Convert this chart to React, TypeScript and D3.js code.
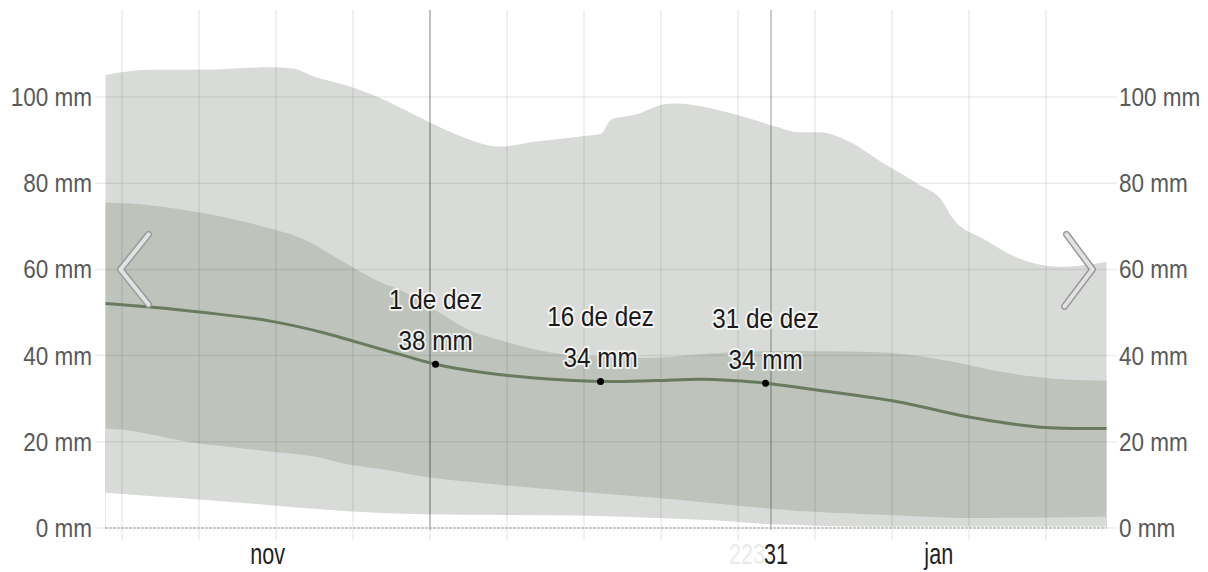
import React from "react";
import * as d3 from "d3";

// percentile series, each with its own sample dates (day of season, noon)
const p90Dates = ["2023-11-01","2023-11-05","2023-11-11","2023-11-16","2023-11-18","2023-11-20","2023-11-23","2023-11-26","2023-11-30","2023-12-02","2023-12-07","2023-12-10","2023-12-14","2023-12-16","2023-12-17","2023-12-19","2023-12-22","2023-12-23","2023-12-25","2023-12-26","2023-12-29","2024-01-01","2024-01-03","2024-01-05","2024-01-07","2024-01-11","2024-01-14","2024-01-16","2024-01-17","2024-01-20","2024-01-23","2024-01-27","2024-01-29","2024-01-31"];
const p90Values = [105.1,106.3,106.4,106.9,106.6,104.7,102.6,99.7,94.7,92.3,88.5,89.6,90.8,91.4,94.8,95.8,98.4,98.5,97.9,97.4,95.4,93.1,91.8,91.8,90.4,84.2,79.6,76.1,71.9,66.8,62.6,60.6,61.0,61.8];

const p75Dates = ["2023-11-01","2023-11-05","2023-11-10","2023-11-16","2023-11-19","2023-11-23","2023-11-26","2023-11-28","2023-12-01","2023-12-04","2023-12-07","2023-12-10","2023-12-13","2023-12-16","2023-12-21","2023-12-26","2023-12-31","2024-01-05","2024-01-12","2024-01-17","2024-01-22","2024-01-27","2024-01-31"];
const p75Values = [75.5,74.9,73.0,69.5,67.0,61.2,57.0,55.0,50.5,46.0,43.5,41.5,40.2,39.8,39.5,40.5,41.0,41.0,40.5,38.6,36.0,34.5,34.2];

const p50Dates = ["2023-11-01","2023-11-05","2023-11-10","2023-11-16","2023-11-21","2023-11-24","2023-11-28","2023-12-01","2023-12-05","2023-12-10","2023-12-16","2023-12-21","2023-12-25","2023-12-28","2023-12-31","2024-01-05","2024-01-12","2024-01-19","2024-01-25","2024-01-31"];
const p50Values = [52.1,51.3,50.0,48.0,45.2,43.0,40.1,38.0,36.2,34.8,34.0,34.2,34.5,34.2,33.6,31.9,29.3,25.5,23.4,23.1];

const p25Dates = ["2023-11-01","2023-11-03","2023-11-09","2023-11-12","2023-11-16","2023-11-20","2023-11-23","2023-11-27","2023-11-30","2023-12-07","2023-12-14","2023-12-21","2023-12-28","2023-12-31","2024-01-04","2024-01-11","2024-01-17","2024-01-25","2024-01-31"];
const p25Values = [23.1,22.7,19.8,18.9,17.7,16.6,14.8,13.3,11.9,10.0,8.4,7.0,5.3,4.6,3.8,3.0,2.4,2.4,2.6];

const p10Dates = ["2023-11-01","2023-11-09","2023-11-16","2023-11-23","2023-11-30","2023-12-14","2023-12-21","2023-12-28","2023-12-31","2024-01-04","2024-01-11","2024-01-31"];
const p10Values = [8.2,6.7,5.3,3.9,3.2,2.9,2.3,1.5,0.9,0.6,0.3,0.3];

const yTicks = [0, 20, 40, 60, 80, 100];

const noteDates = ["2023-12-01", "2023-12-16", "2023-12-31"];
const noteLabels = ["1 de dez", "16 de dez", "31 de dez"];
const noteValues = [38.0, 34.0, 33.6];

const monthLabels = ["nov", "jan"];
const monthLabelDates = ["2023-11-16T06:00", "2024-01-16T06:00"];
const dayLabel = "31";
const dayLabelDate = "2024-01-01T11:00";
const ghostLabel = "223";

const W = 1208;
const H = 572;

const noon = (s: string) => new Date(s + "T12:00");
const toPoints = (dates: string[], vals: number[]) =>
  dates.map((d, i) => ({ date: noon(d), v: vals[i] }));

const x = d3
  .scaleTime()
  .domain([new Date(2023, 10, 1), new Date(2024, 1, 1)])
  .range([100, 1112]);
const y = d3.scaleLinear().domain([0, 100]).range([528, 97]);

const FONT = "'Liberation Sans', Arial, Helvetica, sans-serif";

type Pt = { date: Date; v: number };

const App: React.FC = () => {
  const makeArea = (curve: d3.CurveFactory) =>
    d3
      .area<Pt>()
      .x((d) => x(d.date))
      .y0(y(0))
      .y1((d) => y(d.v))
      .curve(curve);
  const sharp = makeArea(d3.curveMonotoneX);
  const smooth = makeArea(d3.curveCatmullRom.alpha(0.5));
  const line = d3
    .line<Pt>()
    .x((d) => x(d.date))
    .y((d) => y(d.v))
    .curve(d3.curveCatmullRom.alpha(0.5));

  const weeks = d3.timeDay.range(new Date(2023, 10, 3), new Date(2024, 1, 1), 7);
  const months = [new Date(2023, 11, 1), new Date(2024, 0, 1)];
  const x0 = x(noon(p90Dates[0]));
  const x1 = x(noon(p90Dates[p90Dates.length - 1]));

  const chevL = `M${x0 + 43},${y(60) - 35} L${x0 + 15},${y(60)} L${x0 + 43},${y(60) + 35}`;
  const chevR = `M${x1 - 40},${y(60) - 35} L${x1 - 14},${y(60)} L${x1 - 42},${y(60) + 37}`;

  const labelY = 564;

  return (
    <div style={{ position: "fixed", left: 0, top: 0 }}>
      <svg width={W} height={H} style={{ display: "block", background: "#fff" }}>
        <path d={sharp(toPoints(p90Dates, p90Values)) || ""} fill="#d9dbd8" />
        <path d={smooth(toPoints(p75Dates, p75Values)) || ""} fill="#bec3bc" />
        <path d={smooth(toPoints(p25Dates, p25Values)) || ""} fill="#d9dbd8" />
        <path d={sharp(toPoints(p10Dates, p10Values)) || ""} fill="#ffffff" />

        {yTicks.map((t) => (
          <line key={"h" + t} x1={95} x2={1117} y1={y(t)} y2={y(t)}
            stroke="rgba(0,0,0,0.07)" strokeWidth={1.5} />
        ))}
        {weeks.map((d, i) => (
          <line key={"w" + i} x1={x(d)} x2={x(d)} y1={10} y2={540}
            stroke="rgba(0,0,0,0.08)" strokeWidth={1.5} />
        ))}
        {months.map((d, i) => (
          <line key={"m" + i} x1={x(d)} x2={x(d)} y1={10} y2={530}
            stroke="rgba(0,0,0,0.4)" strokeWidth={1} />
        ))}
        <line x1={x0} x2={x1} y1={y(0)} y2={y(0)} stroke="#aaa"
          strokeWidth={1.5} strokeDasharray="2,2" />

        <path d={line(toPoints(p50Dates, p50Values)) || ""} fill="none"
          stroke="#687b5e" strokeWidth={3} />

        {yTicks.map((t) => (
          <g key={"yl" + t} fontFamily={FONT} fontSize={25} fill="#5a5a5a">
            <text transform={`translate(92,${y(t)}) scale(0.9,1)`} textAnchor="end" dy="0.36em">
              {t} mm
            </text>
            <text transform={`translate(1119,${y(t)}) scale(0.9,1)`} textAnchor="start" dy="0.36em">
              {t} mm
            </text>
          </g>
        ))}

        <g fontFamily={FONT} fontSize={30} fill="#222">
          {monthLabels.map((m, i) => (
            <text key={m} transform={`translate(${x(new Date(monthLabelDates[i]))},${labelY}) scale(0.72,1)`}
              textAnchor="middle">{m}</text>
          ))}
          <text transform={`translate(${x(new Date(dayLabelDate)) - 11},${labelY}) scale(0.72,1)`}
            textAnchor="end" fill="#ebebeb">{ghostLabel}</text>
          <text transform={`translate(${x(new Date(dayLabelDate))},${labelY}) scale(0.72,1)`}
            textAnchor="middle">{dayLabel}</text>
        </g>

        {noteDates.map((d, i) => {
          const cx = x(noon(d));
          const cy = y(noteValues[i]);
          return (
            <g key={d} fontFamily={FONT} fontSize={27} fill="#1a1a1a" textAnchor="middle"
              stroke="rgba(255,255,255,0.75)" strokeWidth={4} paintOrder="stroke"
              strokeLinejoin="round">
              <text transform={`translate(${cx},${cy - 55}) scale(0.9,1)`}>{noteLabels[i]}</text>
              <text transform={`translate(${cx},${cy - 14}) scale(0.9,1)`}>
                {Math.round(noteValues[i])} mm
              </text>
              <circle cx={cx} cy={cy} r={3.5} fill="#000" stroke="none" />
            </g>
          );
        })}

        {[chevL, chevR].map((p, i) => (
          <g key={"c" + i} fill="none" strokeLinecap="round" strokeLinejoin="round">
            <path d={p} stroke="#9a9a9a" strokeWidth={7} />
            <path d={p} stroke="#e2e2e2" strokeWidth={4} />
          </g>
        ))}
      </svg>
    </div>
  );
};

export default App;
